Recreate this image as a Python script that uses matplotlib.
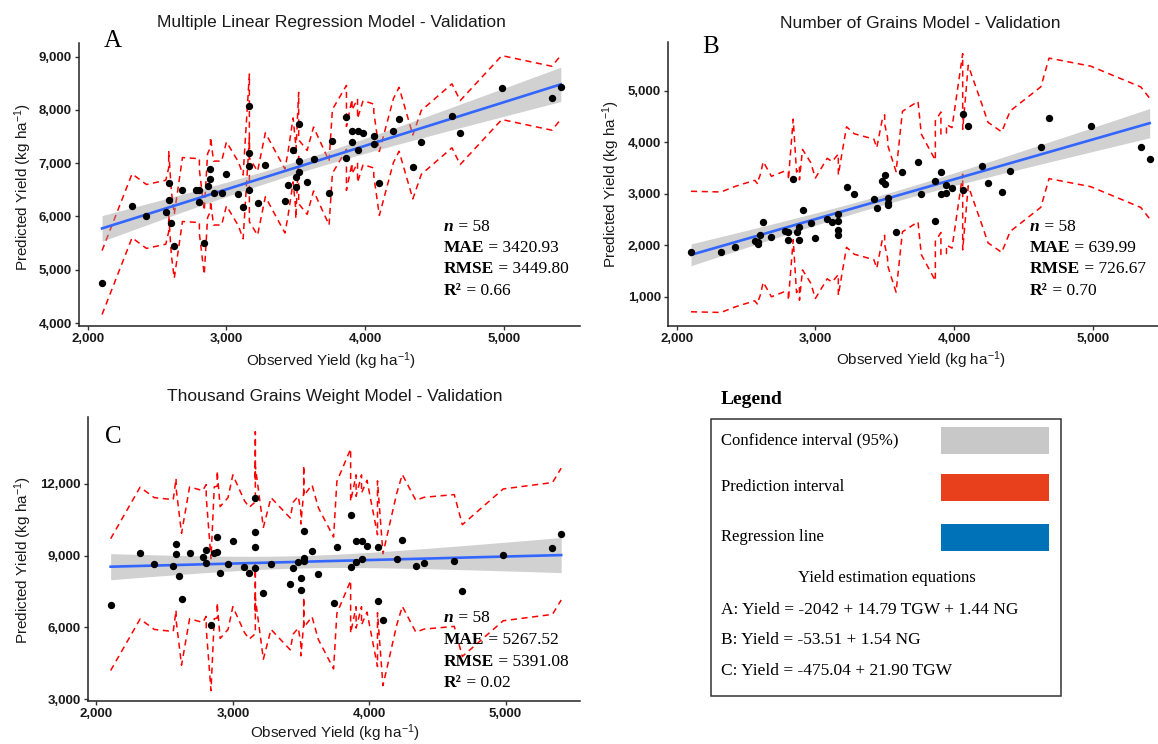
import numpy as np
import matplotlib
matplotlib.use("Agg")
import matplotlib.pyplot as plt
from matplotlib.patches import Rectangle
from matplotlib.ticker import FuncFormatter

plt.rcParams['font.family'] = ['Liberation Sans', 'DejaVu Sans']
plt.rcParams['mathtext.fontset'] = 'custom'
plt.rcParams['mathtext.rm'] = 'Liberation Sans'
plt.rcParams['mathtext.it'] = 'Liberation Sans:italic'
plt.rcParams['mathtext.bf'] = 'Liberation Sans:bold'

# observed yield of the 58 validation plots (shared by the three models)
observed = [2104, 2320, 2424, 2563, 2584, 2584, 2603, 2624, 2683, 2779,
            2805, 2805, 2840, 2864, 2885, 2885, 2907, 2965, 3000, 3085,
            3120, 3165, 3165, 3165, 3165, 3224, 3280, 3421, 3442, 3480,
            3499, 3499, 3520, 3520, 3520, 3581, 3627, 3739, 3763, 3864,
            3864, 3904, 3904, 3944, 3944, 3984, 4061, 4061, 4101, 4202,
            4243, 4342, 4403, 4624, 4683, 4983, 5344, 5408]

# predicted yield, model A (multiple linear regression)
pred_a = [4760, 6200, 6000, 6080, 6312, 6630, 5880, 5440, 6506, 6490,
          6490, 6275, 5510, 6580, 6700, 6890, 6440, 6440, 6800, 6430,
          6180, 8075, 7200, 6940, 6500, 6250, 6970, 6290, 6590, 7250,
          6740, 6560, 7730, 7040, 6840, 6640, 7080, 6440, 7410, 7860,
          7090, 7600, 7400, 7610, 7240, 7575, 7510, 7360, 6620, 7610,
          7825, 6930, 7390, 7890, 7575, 8420, 8220, 8425]

# predicted yield, model B (number of grains)
pred_b = [1877, 1864, 1974, 2090, 2020, 2060, 2200, 2453, 2168, 2270,
          2250, 2100, 3278, 2250, 2362, 2100, 2690, 2440, 2136, 2518,
          2453, 2600, 2470, 2300, 2195, 3130, 2994, 2890, 2722, 3252,
          3362, 3181, 2916, 2828, 2777, 2259, 3430, 3624, 2987, 2479,
          3243, 3417, 2990, 3010, 3172, 3113, 4550, 3080, 4323, 3547,
          3217, 3030, 3437, 3906, 4463, 4307, 3903, 3683]

# predicted yield, model C (thousand grains weight)
pred_c = [6950, 9100, 8665, 8580, 9460, 9056, 8163, 7173, 9112, 8958,
          9209, 8693, 6113, 9112, 9140, 9781, 8289, 8665, 9614, 8540,
          8261, 8484, 11413, 9349, 9976, 7424, 8665, 7814, 8470, 8721,
          8066, 7563, 8902, 10004, 8750, 9195, 8247, 7020, 9335, 10700,
          8512, 9614, 8721, 9614, 8860, 9390, 7117, 9363, 6322, 8847,
          9628, 8554, 8679, 8791, 7536, 9028, 9293, 9893]

# half width of the prediction interval
pi_half = [600, 1170, 2750]
T_CRIT = 2.003  # t(0.975, df = 56)

titles = ["Multiple Linear Regression Model - Validation",
          "Number of Grains Model - Validation",
          "Thousand Grains Weight Model - Validation"]
letters = ["A", "B", "C"]
stat_n = [58, 58, 58]
stat_mae = ["3420.93", "639.99", "5267.52"]
stat_rmse = ["3449.80", "726.67", "5391.08"]
stat_r2 = ["0.66", "0.70", "0.02"]
y_ticks = [[4000, 5000, 6000, 7000, 8000, 9000],
           [1000, 2000, 3000, 4000, 5000],
           [3000, 6000, 9000, 12000]]
x_ticks = [2000, 3000, 4000, 5000]

legend_labels = ["Confidence interval (95%)", "Prediction interval", "Regression line"]
legend_colors = ["#c8c8c8", "#e8401c", "#0072b8"]
equations = ["A: Yield = -2042 + 14.79 TGW + 1.44 NG",
             "B: Yield = -53.51 + 1.54 NG",
             "C: Yield = -475.04 + 21.90 TGW"]

W, H = 1158, 744
fig = plt.figure(figsize=(W / 100, H / 100), dpi=100)


def fx(px):
    return px / W


def fy(py):
    return 1 - py / H


def draw_panel(box, pred, half, xlim, ylim, yticks):
    left, top, right, bottom = box
    ax = fig.add_axes([fx(left), fy(bottom), fx(right - left), (bottom - top) / H])
    x = np.array(observed, dtype=float)
    y = np.array(pred, dtype=float)
    ax.plot(x, y + half, color='red', lw=1.1, ls=(0, (4, 3)), zorder=1)
    ax.plot(x, y - half, color='red', lw=1.1, ls=(0, (4, 3)), zorder=1)

    slope, intercept = np.polyfit(x, y, 1)
    grid = np.linspace(x.min(), x.max(), 80)
    fit = intercept + slope * grid
    resid = y - (intercept + slope * x)
    n = len(x)
    s = np.sqrt(np.sum(resid ** 2) / (n - 2))
    sxx = np.sum((x - x.mean()) ** 2)
    se = s * np.sqrt(1 / n + (grid - x.mean()) ** 2 / sxx)
    ax.fill_between(grid, fit - T_CRIT * se, fit + T_CRIT * se,
                    color='#999999', alpha=0.45, lw=0, zorder=2)
    ax.plot(grid, fit, color='#3366FF', lw=1.9, zorder=3)
    ax.scatter(x, y, s=28, color='black', lw=0, zorder=4)

    ax.set_xlim(*xlim)
    ax.set_ylim(*ylim)
    ax.set_xticks(x_ticks)
    ax.set_yticks(yticks)
    fmt = FuncFormatter(lambda v, p: f"{v:,.0f}")
    ax.xaxis.set_major_formatter(fmt)
    ax.yaxis.set_major_formatter(fmt)
    for sp in ['top', 'right']:
        ax.spines[sp].set_visible(False)
    for sp in ['left', 'bottom']:
        ax.spines[sp].set_linewidth(1.1)
        ax.spines[sp].set_color('#222222')
    ax.tick_params(length=3, width=1, color='#333333', pad=2,
                   labelsize=9.5, labelcolor='#1a1a1a')
    for lab in ax.get_xticklabels() + ax.get_yticklabels():
        lab.set_fontweight('bold')
    ax.set_facecolor('none')
    return ax


def stats_block(ax, x, ys, k):
    lines = [[("n", 'bold', 'italic'), (f" = {stat_n[k]}", 'normal', 'normal')],
             [("MAE", 'bold', 'normal'), (f" = {stat_mae[k]}", 'normal', 'normal')],
             [("RMSE", 'bold', 'normal'), (f" = {stat_rmse[k]}", 'normal', 'normal')],
             [("R\u00b2", 'bold', 'normal'), (f" = {stat_r2[k]}", 'normal', 'normal')]]
    for line, yy in zip(lines, ys):
        prev = None
        for txt, wt, st in line:
            if prev is None:
                prev = ax.text(fx(x), fy(yy), txt, transform=fig.transFigure,
                               family='Liberation Serif', fontsize=12.5,
                               fontweight=wt, style=st, va='center', ha='left')
            else:
                prev = ax.annotate(txt, xy=(1, 0.5), xycoords=prev,
                                   family='Liberation Serif', fontsize=12.5,
                                   fontweight=wt, style=st, va='center', ha='left',
                                   annotation_clip=False)


ylab = "Predicted Yield (kg ha$^{-1}$)"
xlab = "Observed Yield (kg ha$^{-1}$)"

# panel A
ax_a = draw_panel((79, 43, 580, 326), pred_a, pi_half[0], (1938, 5546), (3944, 9257), y_ticks[0])
# panel B
ax_b = draw_panel((668, 42, 1158, 326), pred_b, pi_half[1], (1938, 5468), (431, 5946), y_ticks[1])
# panel C
ax_c = draw_panel((88, 417, 580, 701), pred_c, pi_half[2], (1938, 5546), (2929, 14779), y_ticks[2])

layout = [
    # title center, letter pos, stats x, stats ys, xlabel pos, ylabel pos
    ((331, 23), (113, 41), 444, [227, 248, 269, 291], (331, 361), (23, 187)),
    ((920, 23), (711, 47), 1030, [227, 248, 269, 291], (921, 360), (611, 184)),
    ((335, 397), (113, 437), 444, [618, 640, 662, 683], (335, 733), (23, 560)),
]
for k, ax in enumerate([ax_a, ax_b, ax_c]):
    tpos, lpos, sx, sys_, xlpos, ylpos = layout[k]
    fig.text(fx(tpos[0]), fy(tpos[1]), titles[k], ha='center', va='center',
             fontsize=12.5, color='#1a1a1a')
    fig.text(fx(lpos[0]), fy(lpos[1]), letters[k], ha='center', va='center',
             family='Liberation Serif', fontsize=18)
    fig.text(fx(xlpos[0]), fy(xlpos[1]), xlab, ha='center', va='center',
             fontsize=11, color='#1a1a1a')
    fig.text(fx(ylpos[0]), fy(ylpos[1]), ylab, ha='center', va='center',
             rotation=90, fontsize=11, color='#1a1a1a')
    stats_block(ax, sx, sys_, k)

# legend panel
leg = fig.add_axes([0, 0, 1, 1])
leg.set_xlim(0, W)
leg.set_ylim(H, 0)
leg.axis('off')
leg.set_zorder(-1)
leg.text(721, 400, "Legend", family='Liberation Serif', fontweight='bold',
         fontsize=14, va='center', ha='left')
leg.add_patch(Rectangle((711, 419), 1061 - 711, 696 - 419, fill=False,
                        edgecolor='#333333', lw=1.1))
row_y = [440, 487, 537]
for lab, col, yy in zip(legend_labels, legend_colors, row_y):
    leg.text(721, yy, lab, family='Liberation Serif', fontsize=12,
             va='center', ha='left')
    leg.add_patch(Rectangle((941, yy - 13), 108, 27, facecolor=col,
                            edgecolor='none'))
leg.text(887, 578, "Yield estimation equations", family='Liberation Serif',
         fontsize=12, va='center', ha='center')
for eq, yy in zip(equations, [610, 640, 671]):
    leg.text(721, yy, eq, family='Liberation Serif', fontsize=12.5,
             va='center', ha='left')

fig.savefig("out.png", dpi=100, facecolor='white')
